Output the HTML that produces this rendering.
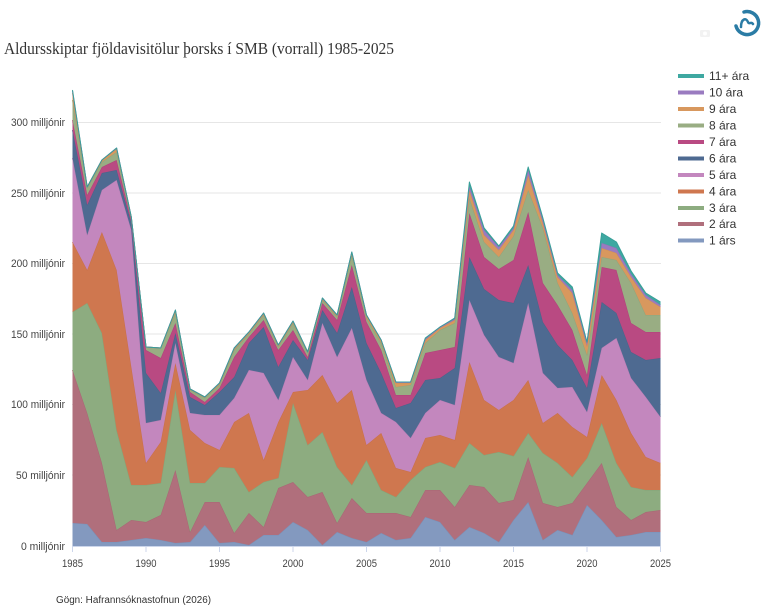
<!DOCTYPE html>
<html>
<head>
<meta charset="utf-8">
<style>
html,body{margin:0;padding:0;background:#fff;}
body{width:768px;height:611px;overflow:hidden;}
svg{display:block;}
</style>
</head>
<body>
<svg id="c" width="768" height="611" viewBox="0 0 768 611" xmlns="http://www.w3.org/2000/svg">
<rect x="0" y="0" width="768" height="611" fill="#ffffff"/>
<text x="4" y="54" font-family="Liberation Serif, serif" font-size="17" fill="#333" textLength="390" lengthAdjust="spacingAndGlyphs">Aldursskiptar fjöldavisitölur þorsks í SMB (vorrall) 1985-2025</text>
<g stroke="#e6e6e6" stroke-width="1">
<line x1="72" x2="661" y1="122.5" y2="122.5"/>
<line x1="72" x2="661" y1="193" y2="193"/>
<line x1="72" x2="661" y1="263.5" y2="263.5"/>
<line x1="72" x2="661" y1="334" y2="334"/>
<line x1="72" x2="661" y1="404.5" y2="404.5"/>
<line x1="72" x2="661" y1="475" y2="475"/>
</g>
<g id="areas"></g>
<line x1="72" x2="661" y1="546.5" y2="546.5" stroke="#ccd6eb" stroke-width="1"/>
<g id="ticks" stroke="#ccd6eb" stroke-width="1"></g>
<g font-family="Liberation Sans, sans-serif" font-size="11" fill="#444" text-anchor="end">
<text x="65" y="126" textLength="54" lengthAdjust="spacingAndGlyphs">300 milljónir</text>
<text x="65" y="197" textLength="54" lengthAdjust="spacingAndGlyphs">250 milljónir</text>
<text x="65" y="267" textLength="54" lengthAdjust="spacingAndGlyphs">200 milljónir</text>
<text x="65" y="338" textLength="54" lengthAdjust="spacingAndGlyphs">150 milljónir</text>
<text x="65" y="408" textLength="54" lengthAdjust="spacingAndGlyphs">100 milljónir</text>
<text x="65" y="479" textLength="49" lengthAdjust="spacingAndGlyphs">50 milljónir</text>
<text x="65" y="550" textLength="44" lengthAdjust="spacingAndGlyphs">0 milljónir</text>
</g>
<g id="xl" font-family="Liberation Sans, sans-serif" font-size="11" fill="#444" text-anchor="middle"></g>
<g font-family="Liberation Sans, sans-serif" font-size="12" fill="#333">
<rect x="678" y="74" width="26" height="4" fill="#3ea8a1"/><text x="709" y="80">11+ ára</text>
<rect x="678" y="90.5" width="26" height="4" fill="#9a7bc0"/><text x="709" y="96.5">10 ára</text>
<rect x="678" y="107" width="26" height="4" fill="#d8985e"/><text x="709" y="113">9 ára</text>
<rect x="678" y="123.5" width="26" height="4" fill="#99ad83"/><text x="709" y="129.5">8 ára</text>
<rect x="678" y="140" width="26" height="4" fill="#b94a82"/><text x="709" y="146">7 ára</text>
<rect x="678" y="156.5" width="26" height="4" fill="#4e6a91"/><text x="709" y="162.5">6 ára</text>
<rect x="678" y="173" width="26" height="4" fill="#c387be"/><text x="709" y="179">5 ára</text>
<rect x="678" y="189.5" width="26" height="4" fill="#cf774f"/><text x="709" y="195.5">4 ára</text>
<rect x="678" y="206" width="26" height="4" fill="#8dac80"/><text x="709" y="212">3 ára</text>
<rect x="678" y="222" width="26" height="4" fill="#b06f7c"/><text x="709" y="228">2 ára</text>
<rect x="678" y="238.5" width="26" height="4" fill="#8399bf"/><text x="709" y="244.5">1 árs</text>
</g>
<text x="56" y="603" font-family="Liberation Sans, sans-serif" font-size="10" fill="#333" textLength="155" lengthAdjust="spacingAndGlyphs">Gögn: Hafrannsóknastofnun (2026)</text>
<!-- logo -->
<g transform="translate(747,23)">
<path d="M -3 -11 A 11.5 11.5 0 1 1 -11 3" fill="none" stroke="#2b7ca5" stroke-width="3.5" stroke-linecap="round"/>
<path d="M -6 4 C -6 -4, -1 -6, 1 -1 C 2 2, 4 -2, 6 1" fill="none" stroke="#2b7ca5" stroke-width="2.5" stroke-linecap="round"/>
</g>
<g transform="translate(705,33)" opacity="0.25">
<rect x="-5" y="-3" width="10" height="7" rx="1.5" fill="#ccc"/>
<circle cx="0" cy="0.5" r="2" fill="#fff"/>
</g>
</svg>
<script>
(function(){
var d=[
[523,370,312,242,158,130,120,100,93,91,90],
[524,413,303,270,235,205,195,188,187,187,187],
[542,463,333,232,190,173,167,162,160,160,160],
[542,530,430,270,180,170,160,152,149,148,148],
[540,520,485,367,230,223,220,218,217,217,217],
[538,522,485,463,423,373,350,347,347,347,347],
[540,515,483,442,420,393,358,348,348,348,348],
[543,470,390,363,343,333,323,313,311,310,310],
[542,532,483,430,413,397,392,390,389,389,389],
[525,502,483,443,415,405,402,398,397,397,397],
[543,502,467,450,415,392,388,385,384,383,383],
[542,533,468,422,398,377,357,350,349,348,348],
[545,513,492,413,370,343,337,334,333,332,332],
[535,527,482,460,373,327,320,315,314,313,313],
[535,488,478,422,400,367,350,347,346,345,345],
[522,482,403,392,357,340,330,323,322,321,321],
[530,497,445,390,380,360,357,353,352,352,352],
[545,492,432,375,323,310,303,300,299,298,298],
[532,523,467,403,357,333,320,317,316,315,315],
[538,498,485,390,328,287,265,255,253,252,252],
[542,513,460,445,380,343,322,318,316,315,315],
[533,513,490,433,413,373,350,343,341,340,340],
[540,513,497,468,422,408,395,387,383,382,382],
[538,517,480,472,438,403,395,385,383,382,382],
[517,490,467,438,413,380,353,343,340,339,338],
[522,490,462,435,400,378,350,330,328,327,327],
[540,507,468,440,405,368,347,323,320,319,318],
[527,485,443,362,300,257,213,198,190,186,182],
[533,487,455,400,335,289,257,242,235,230,228],
[542,503,452,410,357,300,269,257,250,247,246],
[520,500,456,400,363,303,260,236,230,228,226],
[502,457,433,380,303,265,212,190,175,170,167],
[540,503,453,423,373,322,283,228,223,220,218],
[530,507,463,413,388,345,305,283,277,275,273],
[535,503,477,427,387,360,330,313,293,290,287],
[505,483,458,437,412,388,375,355,346,343,342],
[520,463,423,375,348,302,267,257,248,243,233],
[537,507,463,400,338,313,270,260,253,248,242],
[535,520,487,433,378,352,323,283,277,274,271],
[532,512,490,457,397,360,332,315,298,295,293],
[532,510,490,463,417,358,332,315,307,305,302]
];
var cols=["#8399bf","#b06f7c","#8dac80","#cf774f","#c387be","#4e6a91","#b94a82","#99ad83","#d8985e","#9a7bc0","#3ea8a1"];
var lcols=["#7b91b8","#a86774","#85a478","#c96f47","#bb7fb6","#48648a","#b1427a","#91a57b","#d09056","#9273b8","#389f98"];
var NS="http://www.w3.org/2000/svg";
var g=document.getElementById("areas");
function X(i){return (72.5+i*14.7).toFixed(2);}
var n=d.length;
for(var k=0;k<11;k++){
  var p="M"; var l="M";
  for(var i=0;i<n;i++){p+=(i?" L":"")+X(i)+","+d[i][k]; l+=(i?" L":"")+X(i)+","+d[i][k];}
  for(var i=n-1;i>=0;i--){var lo=k==0?546:d[i][k-1]; p+=" L"+X(i)+","+lo;}
  p+=" Z";
  var a=document.createElementNS(NS,"path");a.setAttribute("d",p);a.setAttribute("fill",cols[k]);g.appendChild(a);
  var b=document.createElementNS(NS,"path");b.setAttribute("d",l);b.setAttribute("fill","none");b.setAttribute("stroke",lcols[k]);b.setAttribute("stroke-width","1");b.setAttribute("stroke-linejoin","round");g.appendChild(b);
}
var t=document.getElementById("ticks"), xl=document.getElementById("xl");
for(var yr=1985;yr<=2025;yr+=5){
  var x=72.5+(yr-1985)*14.7;
  var ln=document.createElementNS(NS,"line");ln.setAttribute("x1",x);ln.setAttribute("x2",x);ln.setAttribute("y1",546);ln.setAttribute("y2",552);t.appendChild(ln);
  var tx=document.createElementNS(NS,"text");tx.setAttribute("x",x);tx.setAttribute("y",567);tx.setAttribute("textLength","21");tx.setAttribute("lengthAdjust","spacingAndGlyphs");tx.textContent=yr;xl.appendChild(tx);
}
})();
</script>
</body>
</html>
